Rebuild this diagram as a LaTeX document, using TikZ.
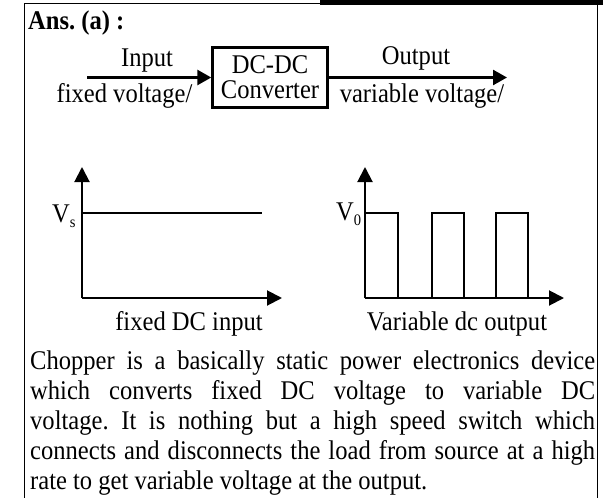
\documentclass[tikz,border=0pt]{standalone}
\usepackage{fontspec}
\setmainfont{Liberation Serif}[FakeStretch=0.91]
\usepackage{tikz}
\usetikzlibrary{arrows.meta}
\frenchspacing

\newcommand{\txtsize}{\fontsize{27}{30}\selectfont}
\newcommand{\vlabel}[2]{#1\raisebox{-5pt}{\fontsize{16}{16}\selectfont #2}}

\begin{document}
\begin{tikzpicture}[x=1pt,y=-1pt,font=\txtsize,
  frameline/.style={line width=1.4pt},
  flow/.style={line width=2.6pt,-{Triangle[length=14pt,width=15pt]}},
  axis/.style={line width=2pt,-{Triangle[length=15pt,width=15pt]}},
  wave/.style={line width=2pt},
  lbl/.style={inner sep=0pt,anchor=base}]
  \useasboundingbox (0,0) rectangle (603,498);
  % frame
  \fill (320,0) rectangle (603,4.5);
  \draw[frameline] (597.5,4) -- (597.5,498);
  \draw[frameline] (320,3.5) -- (24.5,3.5) -- (24.5,498);
  \node[lbl,anchor=base west,font=\bfseries\txtsize] (ans) at (28,29) {Ans. (a) :};

  % block diagram
  \node[draw,line width=2.4pt,minimum width=115pt,minimum height=60pt,align=center,inner sep=0pt,
    font=\fontsize{27}{25}\selectfont] (conv) at (270,77.5) {DC-DC\\Converter};
  \coordinate (in0) at (87,77.5);
  \coordinate (out1) at (507,77.5);
  \draw[flow] (in0) -- (conv.west);
  \draw[flow] (conv.east) -- (out1);
  \node[lbl] (inlbl) at (147,66) {Input};
  \node[lbl] (inval) at (124.5,102) {fixed voltage/};
  \node[lbl] (outlbl) at (416,64) {Output};
  \node[lbl] (outval) at (422,102) {variable voltage/};

  % fixed input
  \coordinate (o1) at (82,298);
  \coordinate (y1) at (82,167);
  \coordinate (x1) at (282,298);
  \draw[axis] (o1) -- (y1);
  \draw[axis] (o1) -- (x1);
  \draw[wave] (82,213) -- (262,213);
  \node[lbl,anchor=base west] (vs) at (52,222) {\vlabel{V}{s}};
  \node[lbl] (inname) at (189,330) {fixed DC input};

  % chopped output
  \coordinate (o2) at (365,298);
  \coordinate (y2) at (365,167);
  \coordinate (x2) at (564,298);
  \draw[axis] (o2) -- (y2);
  \draw[axis] (o2) -- (x2);
  \foreach \a/\b in {365/398,432/464,496/528}
    \draw[wave] (\a,298) -- (\a,213) -- (\b,213) -- (\b,298);
  \node[lbl,anchor=base west] (v0) at (336,220) {\vlabel{V}{0}};
  \node[lbl] (outname) at (457,330) {Variable dc output};

  % explanation
  \node[inner sep=0pt,anchor=base west,text width=565pt,align=justify] (note) at (30,369)
    {Chopper is a basically static power electronics device\linebreak
     which converts fixed DC voltage to variable DC\linebreak
     voltage. It is nothing but a high speed switch which\linebreak
     connects and disconnects the load from source at a high\linebreak
     rate to get variable voltage at the output.};
\end{tikzpicture}
\end{document}
